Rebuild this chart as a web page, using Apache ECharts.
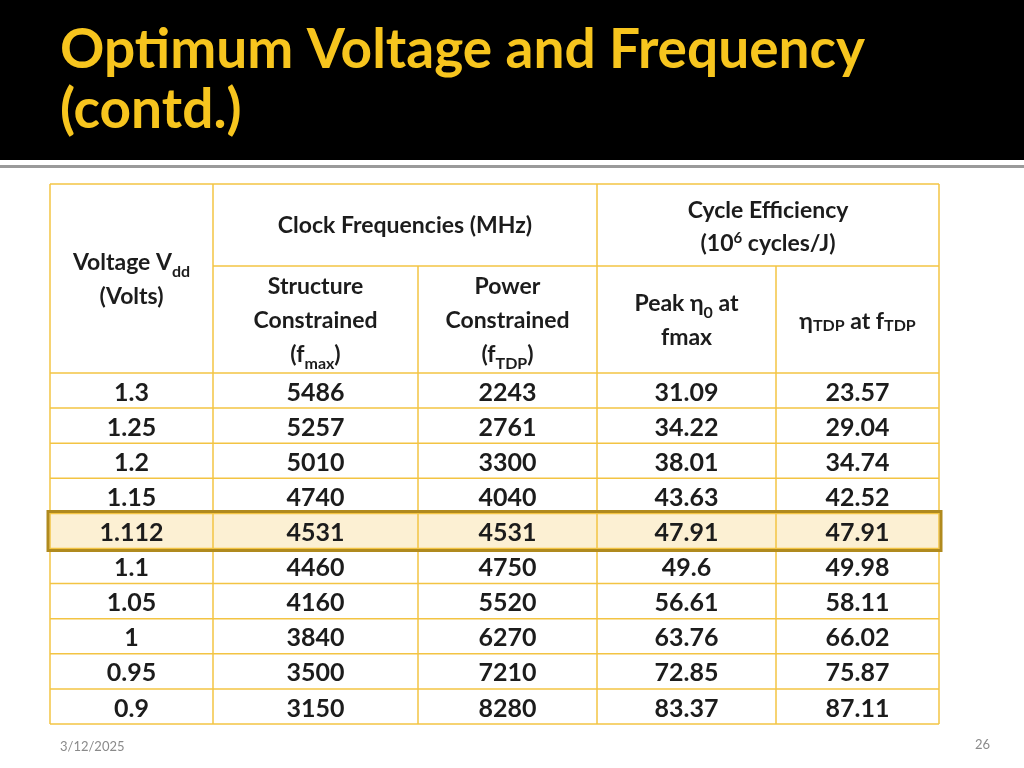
<!DOCTYPE html>
<html><head><meta charset="utf-8">
<script src="https://cdn.jsdelivr.net/npm/echarts@6/dist/echarts.min.js"></script>
<style>html,body{margin:0;padding:0;background:#fff}#c{width:1024px;height:768px}</style>
</head><body><div id="c"></div>
<script>
const title = "Optimum Voltage and Frequency\n(contd.)";
const voltages = ["1.3","1.25","1.2","1.15","1.112","1.1","1.05","1","0.95","0.9"];
const fmax = ["5486","5257","5010","4740","4531","4460","4160","3840","3500","3150"];
const ftdp = ["2243","2761","3300","4040","4531","4750","5520","6270","7210","8280"];
const eta0 = ["31.09","34.22","38.01","43.63","47.91","49.6","56.61","63.76","72.85","83.37"];
const etaTdp = ["23.57","29.04","34.74","42.52","47.91","49.98","58.11","66.02","75.87","87.11"];
const highlightRow = 4;
const footDate = "3/12/2025", pageNo = "26";

const colX = [50,213,418,597,776,939];
const topY = 184, midY = 266, headY = 373, rowH = 35.1;
const F = 'Lato, "Noto Sans", sans-serif';
const gold = '#F3C443', txt = '#1c1c1c';
const rich = {sub:{fontSize:16,fontWeight:'bold',fontFamily:F,color:txt,verticalAlign:'bottom',padding:[8,0,0,0]},
  sup:{fontSize:15,fontWeight:'bold',fontFamily:F,color:txt,padding:[0,0,10,0]}};
const g = [];
g.push({type:'rect',shape:{x:0,y:0,width:1024,height:160},style:{fill:'#000'}});
g.push({type:'rect',shape:{x:0,y:165,width:1024,height:3},style:{fill:'#9a9a9a'}});
g.push({type:'text',x:60,y:20,style:{text:title,fill:'#F7C51E',fontSize:55,fontWeight:'bold',fontFamily:F,lineHeight:60}});
const hy = headY + highlightRow*rowH;
g.push({type:'rect',shape:{x:colX[0],y:hy,width:colX[5]-colX[0],height:rowH},style:{fill:'#FCF0D3'}});
function line(x1,y1,x2,y2){g.push({type:'line',shape:{x1,y1,x2,y2},style:{stroke:gold,lineWidth:1.5}});}
line(colX[0],topY,colX[5],topY);
line(colX[1],midY,colX[5],midY);
for(let i=0;i<=voltages.length;i++) line(colX[0],headY+i*rowH,colX[5],headY+i*rowH);
const botY = headY+voltages.length*rowH;
colX.forEach((x,i)=>{ if(i===2||i===4) line(x,midY,x,botY); else line(x,topY,x,botY); });
g.push({type:'rect',shape:{x:colX[0]-2,y:hy-2,width:colX[5]-colX[0]+4,height:rowH+4},style:{fill:'none',stroke:'#B08A1E',lineWidth:3}});
function t(x,y,text,size,extra){g.push({type:'text',x,y,style:Object.assign({text,fill:txt,fontSize:size||24,fontWeight:'bold',fontFamily:F,align:'center',verticalAlign:'middle',rich},extra||{})});}
const cx = i=>(colX[i]+colX[i+1])/2;
t(cx(0),280,"Voltage V{sub|dd}\n(Volts)",23,{lineHeight:34});
t((colX[1]+colX[3])/2,226,"Clock Frequencies (MHz)",23);
t((colX[3]+colX[5])/2,227,"Cycle Efficiency\n(10{sup|6} cycles/J)",23,{lineHeight:33});
t(cx(1),321,"Structure\nConstrained\n(f{sub|max})",23,{lineHeight:34});
t(cx(2),321,"Power\nConstrained\n(f{sub|TDP})",23,{lineHeight:34});
t(cx(3),321,"Peak η{sub|0} at\nfmax",23,{lineHeight:34});
t(cx(4),322,"η{sub|TDP} at f{sub|TDP}",23);
const cols=[voltages,fmax,ftdp,eta0,etaTdp];
cols.forEach((arr,c)=>arr.forEach((v,r)=>t(cx(c),headY+r*rowH+rowH/2+2,v,25)));
g.push({type:'text',x:60,y:747,style:{text:footDate,fill:'#8a8a8a',fontSize:13,fontFamily:F,verticalAlign:'middle'}});
g.push({type:'text',x:990,y:745,style:{text:pageNo,fill:'#8a8a8a',fontSize:13,fontFamily:F,align:'right',verticalAlign:'middle'}});
const chart = echarts.init(document.getElementById('c'));
chart.setOption({animation:false,graphic:g});
</script></body></html>
